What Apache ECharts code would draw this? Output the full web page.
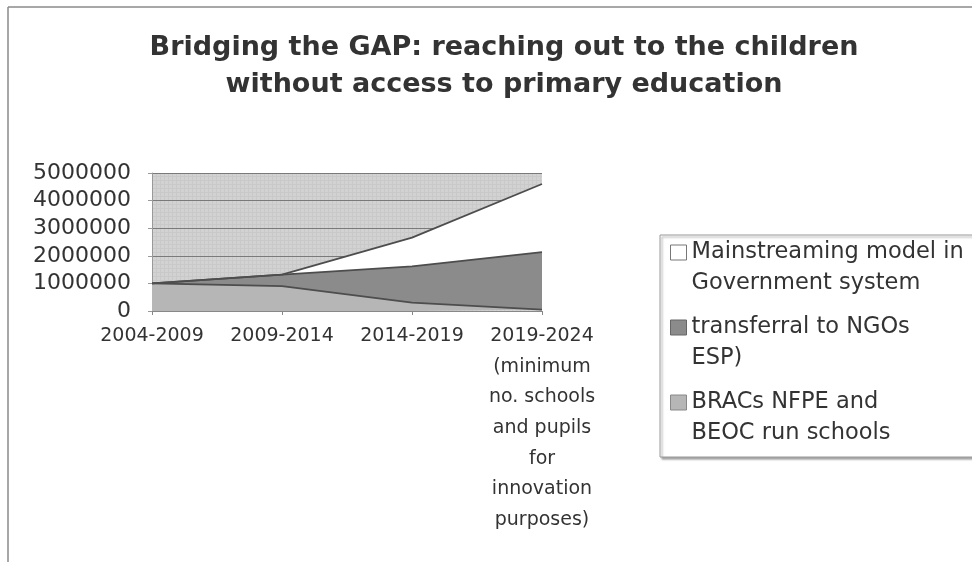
<!DOCTYPE html>
<html>
<head>
<meta charset="utf-8">
<script src="https://cdn.jsdelivr.net/npm/echarts@6/dist/echarts.min.js"></script>
<style>
  html, body { margin: 0; padding: 0; background: #ffffff; }
  #chart { width: 972px; height: 562px; }
</style>
</head>
<body>
<div id="chart"></div>
<script>
// Periods on the x axis (the last one carries its own explanatory note)
const periods = [
  '2004-2009',
  '2009-2014',
  '2014-2019',
  '2019-2024\n(minimum\nno. schools\nand pupils\nfor\ninnovation\npurposes)'
];

// Series names as shown in the legend
const nameMainstream = 'Mainstreaming model in\nGovernment system';
const nameNgo = 'transferral to NGOs\nESP)';
const nameBrac = 'BRACs NFPE and\nBEOC run schools';

// Children reached per period (stacked from the bottom up)
const bracSchools = [1000000, 900000, 300000, 50000];
const ngoTransfer = [0, 420000, 1320000, 2080000];
const mainstreaming = [0, 0, 1040000, 2470000];

// Y axis range
const yMin = 0;
const yMax = 5000000;
const yStep = 1000000;

const TEXT = '#333333';
const FONT = 'DejaVu Sans';
const LINE = '#4d4d4d';

const colBrac = '#b6b6b6';
const colNgo = '#8b8b8b';
const colMain = '#ffffff';

// Fine cross-hatched fill for the plot background
function hatchTile() {
  const c = document.createElement('canvas');
  c.width = 4;
  c.height = 4;
  const g = c.getContext('2d');
  g.fillStyle = '#d2d2d2';
  g.fillRect(0, 0, 4, 4);
  g.fillStyle = '#c9c9c9';
  g.fillRect(0, 0, 4, 1);
  g.fillRect(0, 0, 1, 4);
  return c;
}

const chart = echarts.init(document.getElementById('chart'), null, { renderer: 'canvas' });

function areaSeries(name, data, color) {
  return {
    name: name,
    type: 'line',
    stack: 'total',
    data: data,
    symbol: 'none',
    color: color,
    lineStyle: { color: LINE, width: 1.8 },
    areaStyle: { color: color, opacity: 1 },
    emphasis: { disabled: true },
    silent: true
  };
}

// One legend block per series so each entry sits at its own height.
// A leading blank line keeps the square level with the first text line.
function legendBlock(name, top, iconStyle) {
  return {
    data: [{ name: name, itemStyle: iconStyle }],
    left: 670,
    top: top,
    padding: 0,
    orient: 'vertical',
    icon: 'rect',
    itemWidth: 16,
    itemHeight: 15,
    itemGap: 0,
    selectedMode: false,
    formatter: function (n) { return '\n' + n; },
    textStyle: {
      color: TEXT,
      fontFamily: FONT,
      fontSize: 22.5,
      lineHeight: 31
    }
  };
}

const option = {
  backgroundColor: '#ffffff',
  animation: false,
  title: {
    text: 'Bridging the GAP: reaching out to the children\nwithout access to primary education',
    left: 499,
    top: 24,
    textAlign: 'center',
    textStyle: {
      color: TEXT,
      fontFamily: FONT,
      fontWeight: 'bold',
      fontSize: 27,
      lineHeight: 37
    }
  },
  legend: [
    legendBlock(nameMainstream, 206, { color: colMain, borderColor: '#777777', borderWidth: 1 }),
    legendBlock(nameNgo, 281, { color: colNgo, borderColor: '#666666', borderWidth: 1 }),
    legendBlock(nameBrac, 356, { color: colBrac, borderColor: '#888888', borderWidth: 1 })
  ],
  grid: {
    left: 152,
    right: 430,
    top: 173,
    bottom: 251,
    show: true,
    backgroundColor: { image: hatchTile(), repeat: 'repeat' },
    borderWidth: 0
  },
  xAxis: {
    type: 'category',
    data: periods,
    boundaryGap: false,
    axisLine: { lineStyle: { color: '#888888', width: 1 } },
    axisTick: { show: true, alignWithLabel: true, length: 4, lineStyle: { color: '#888888' } },
    axisLabel: {
      color: TEXT,
      fontFamily: FONT,
      fontSize: 19,
      lineHeight: 30.6,
      margin: 10,
      interval: 0
    },
    splitLine: { show: false }
  },
  yAxis: {
    type: 'value',
    min: yMin,
    max: yMax,
    interval: yStep,
    axisLine: { show: true, lineStyle: { color: '#999999', width: 1 } },
    axisTick: { show: true, length: 4, lineStyle: { color: '#999999' } },
    axisLabel: {
      color: TEXT,
      fontFamily: FONT,
      fontSize: 22,
      margin: 21,
      formatter: function (v) { return String(v); }
    },
    splitLine: { show: true, lineStyle: { color: '#7a7a7a', width: 1 } }
  },
  series: [
    areaSeries(nameBrac, bracSchools, colBrac),
    areaSeries(nameNgo, ngoTransfer, colNgo),
    areaSeries(nameMainstream, mainstreaming, colMain)
  ],
  graphic: [
    // page frame
    { type: 'line', shape: { x1: 8, y1: 7, x2: 972, y2: 7 }, style: { stroke: '#8a8a8a', lineWidth: 1.5 }, silent: true },
    { type: 'line', shape: { x1: 8, y1: 7, x2: 8, y2: 562 }, style: { stroke: '#8a8a8a', lineWidth: 1.5 }, silent: true },
    // legend box
    {
      type: 'rect',
      z: -1,
      shape: { x: 660, y: 235, width: 330, height: 222 },
      style: {
        fill: '#ffffff',
        stroke: '#9a9a9a',
        lineWidth: 1,
        shadowColor: 'rgba(0,0,0,0.35)',
        shadowBlur: 2,
        shadowOffsetX: 2,
        shadowOffsetY: 2
      },
      silent: true
    }
  ]
};

chart.setOption(option);
</script>
</body>
</html>
